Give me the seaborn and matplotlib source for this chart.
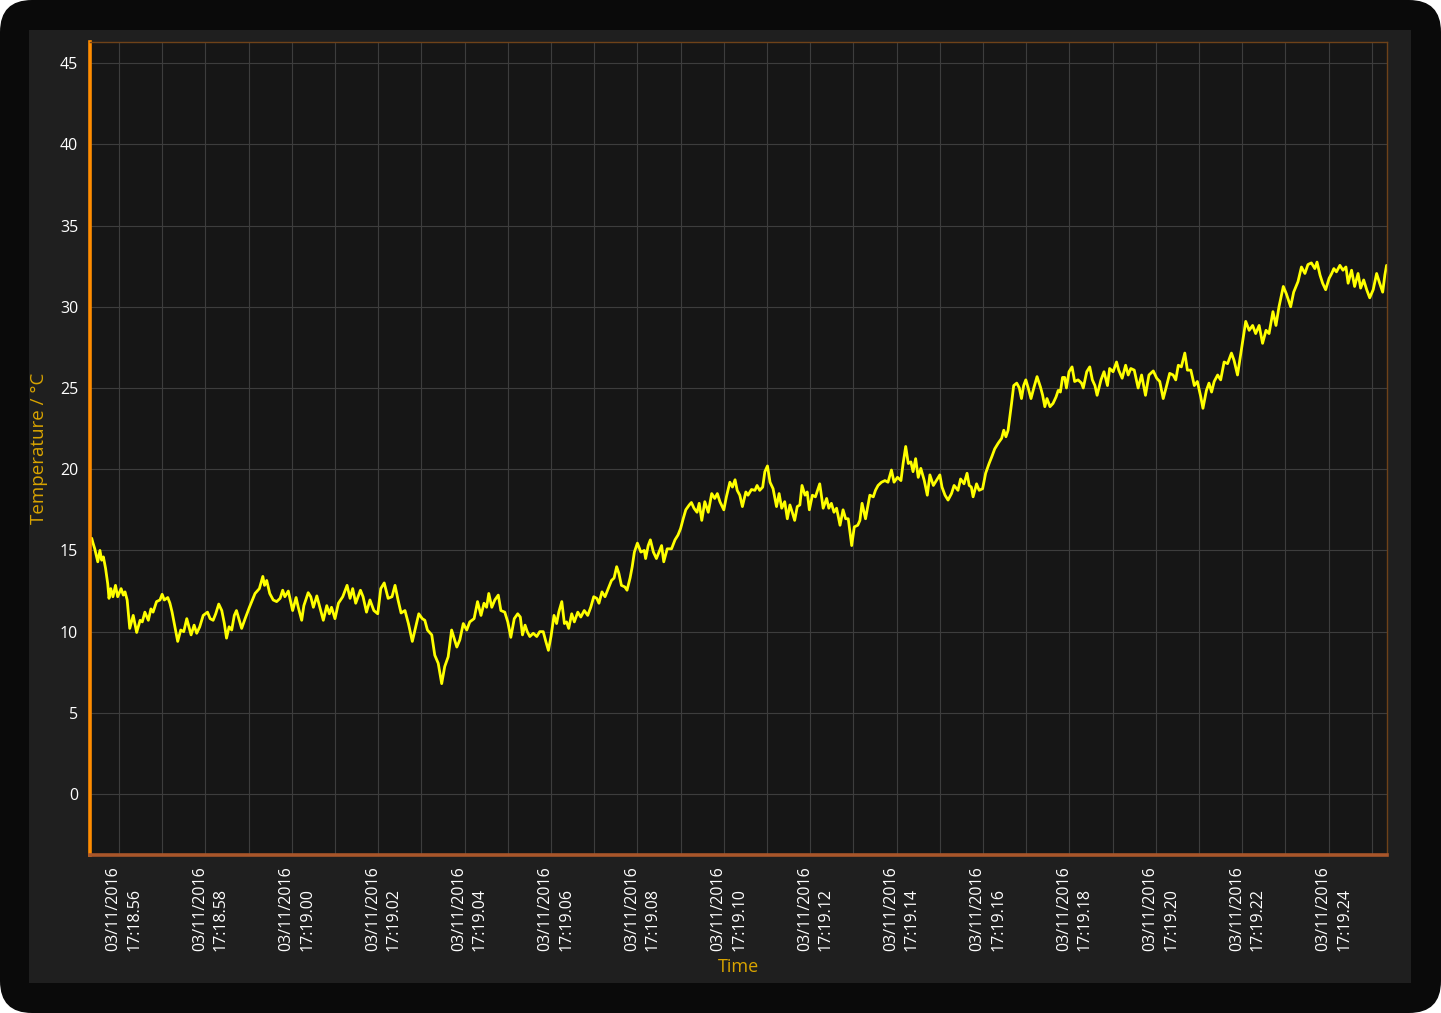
import pandas as pd
import matplotlib
matplotlib.use('Agg')
import matplotlib.pyplot as plt
import matplotlib.dates as mdates
import matplotlib.transforms as mtransforms
from matplotlib.patches import FancyBboxPatch, Rectangle
import seaborn as sns

# time origin of the recording
start = pd.Timestamp('2016-11-03 17:18:55')

# seconds after start
seconds = [
    0.37, 0.40, 0.44, 0.51, 0.56, 0.60, 0.64, 0.69, 0.74, 0.77,
    0.81, 0.86, 0.92, 0.97, 1.05, 1.10, 1.14, 1.19, 1.25, 1.33,
    1.41, 1.49, 1.54, 1.60, 1.68, 1.74, 1.79, 1.87, 1.95, 2.00,
    2.05, 2.13, 2.18, 2.23, 2.28, 2.36, 2.43, 2.50, 2.57, 2.67,
    2.74, 2.80, 2.87, 2.95, 3.05, 3.11, 3.18, 3.24, 3.31, 3.38,
    3.44, 3.49, 3.55, 3.61, 3.67,
    3.72, 3.84, 3.92, 4.02, 4.15, 4.25, 4.33, 4.37, 4.42, 4.49,
    4.57, 4.65, 4.73, 4.79, 4.84, 4.92, 5.02, 5.10, 5.15, 5.23,
    5.28, 5.38, 5.44, 5.50, 5.58, 5.64, 5.73, 5.81, 5.87, 5.92,
    6.00, 6.08, 6.18, 6.28, 6.35, 6.41, 6.48, 6.59, 6.65, 6.73,
    6.81, 6.90,
    6.99, 7.06, 7.14, 7.23, 7.32, 7.39, 7.46, 7.53, 7.62, 7.70,
    7.79, 7.87, 7.94, 8.02, 8.08, 8.14, 8.24, 8.31, 8.39, 8.47,
    8.54, 8.62, 8.70, 8.82, 8.89, 8.97, 9.05, 9.12, 9.22, 9.30,
    9.38, 9.45, 9.51, 9.56, 9.63, 9.70, 9.78, 9.84, 9.93, 10.00,
    10.07, 10.15, 10.23, 10.29, 10.34, 10.40,
    10.45, 10.51, 10.59, 10.67, 10.74, 10.82, 10.88, 10.94, 11.00, 11.07,
    11.13, 11.18, 11.25, 11.31, 11.36, 11.41, 11.48, 11.54, 11.62, 11.69,
    11.77, 11.85, 11.92, 11.99, 12.06, 12.11, 12.18, 12.25, 12.34, 12.40,
    12.46, 12.52, 12.57, 12.63, 12.71, 12.76, 12.83, 12.88, 12.93, 13.00,
    13.08, 13.16, 13.19, 13.25, 13.30, 13.37, 13.44, 13.50, 13.56, 13.61,
    13.69, 13.79, 13.87, 13.94, 14.00, 14.06, 14.12, 14.20, 14.25, 14.31,
    14.38, 14.43, 14.49, 14.56, 14.64, 14.72, 14.79, 14.85, 14.91, 15.00,
    15.06, 15.14, 15.20, 15.26, 15.31, 15.37, 15.43, 15.51, 15.56, 15.64,
    15.72, 15.77, 15.83, 15.90, 15.95, 16.01, 16.07, 16.14, 16.22, 16.28,
    16.34, 16.41, 16.47, 16.53, 16.59, 16.64, 16.70, 16.76, 16.81, 16.88,
    16.93, 16.98,
    17.05, 17.12, 17.22, 17.30, 17.38, 17.43, 17.49, 17.55, 17.61, 17.69,
    17.76, 17.82, 17.88, 17.96, 18.02, 18.10, 18.15, 18.20, 18.28, 18.38,
    18.46, 18.51, 18.57, 18.65, 18.73, 18.80, 18.88, 18.94, 19.02, 19.10,
    19.15, 19.21, 19.27, 19.33, 19.38, 19.44, 19.50, 19.56, 19.64, 19.71,
    19.77, 19.85, 19.92, 20.00, 20.05, 20.12, 20.19, 20.27, 20.33,
    20.42, 20.48, 20.56, 20.63, 20.68, 20.73, 20.77, 20.85, 20.91, 20.99,
    21.06, 21.14, 21.20, 21.27, 21.35, 21.43, 21.48, 21.53, 21.58, 21.62,
    21.66, 21.71, 21.78, 21.84, 21.89, 21.94, 21.99, 22.04, 22.11, 22.18,
    22.25, 22.33, 22.38, 22.43, 22.48, 22.55, 22.62, 22.69, 22.74, 22.79,
    22.84, 22.89, 22.93, 22.99, 23.06, 23.12, 23.20, 23.28, 23.32, 23.40,
    23.47, 23.53, 23.59, 23.64,
    23.73, 23.80, 23.88, 23.93, 24.01, 24.09, 24.14, 24.22, 24.30, 24.36,
    24.42, 24.50, 24.59, 24.67, 24.76, 24.84, 24.94, 25.02, 25.09, 25.17,
    25.25, 25.32, 25.40, 25.46, 25.52, 25.59, 25.67, 25.73, 25.81, 25.89,
    25.96, 26.04, 26.09, 26.17, 26.23, 26.29, 26.35, 26.43, 26.50, 26.58,
    26.66, 26.75, 26.81, 26.89, 26.97, 27.04,
    27.08, 27.16, 27.24, 27.31, 27.39, 27.47, 27.55, 27.62, 27.71, 27.78,
    27.85, 27.95, 28.02, 28.12, 28.19, 28.29, 28.37, 28.45, 28.52, 28.60,
    28.68, 28.73, 28.80, 28.86, 28.93, 29.01, 29.07, 29.12, 29.18, 29.26,
    29.33, 29.40, 29.45, 29.53, 29.60, 29.68, 29.74, 29.81, 29.88, 29.95,
    30.03, 30.11, 30.18, 30.25, 30.30, 30.34,
]

# temperature in degC at those times
temps = [
    15.75, 15.45, 15.1, 14.3, 15.0, 14.4, 14.6, 13.9, 12.95, 12.05,
    12.65, 12.15, 12.85, 12.15, 12.65, 12.25, 12.45, 11.95, 10.2, 11.0,
    9.95, 10.7, 10.6, 11.2, 10.7, 11.4, 11.2, 11.85, 11.95, 12.3,
    11.95, 12.1, 11.75, 11.2, 10.5, 9.4, 10.1, 10.0, 10.8, 9.8,
    10.4, 9.9, 10.3, 11.0, 11.2, 10.8, 10.7, 11.1, 11.7, 11.3,
    10.5, 9.6, 10.3, 10.1, 11.0,
    11.3, 10.2, 10.8, 11.5, 12.35, 12.65, 13.4, 12.85, 13.15, 12.35,
    11.95, 11.85, 12.05, 12.55, 12.15, 12.5, 11.3, 12.1, 11.5, 10.7,
    11.6, 12.4, 12.15, 11.5, 12.2, 11.6, 10.7, 11.6, 11.1, 11.5,
    10.8, 11.75, 12.15, 12.85, 12.05, 12.65, 11.75, 12.55, 12.15, 11.2,
    11.95, 11.3,
    11.1, 12.65, 13.0, 12.05, 12.15, 12.85, 11.95, 11.15, 11.3, 10.5,
    9.4, 10.3, 11.1, 10.8, 10.7, 10.1, 9.8, 8.55, 8.05, 6.8,
    7.85, 8.45, 10.1, 9.05, 9.5, 10.5, 10.1, 10.6, 10.8, 11.85,
    11.0, 11.75, 11.5, 12.35, 11.5, 11.95, 12.25, 11.3, 11.2, 10.6,
    9.65, 10.8, 11.1, 10.9, 9.8, 10.4,
    10.0, 9.7, 9.9, 9.7, 10.0, 10.0, 9.4, 8.85, 9.7, 11.0,
    10.5, 11.2, 11.85, 10.5, 10.6, 10.2, 11.1, 10.6, 11.2, 10.9,
    11.3, 11.0, 11.5, 12.15, 12.05, 11.75, 12.45, 12.15, 12.75, 13.15,
    13.3, 14.0, 13.6, 12.85, 12.75, 12.55, 13.3, 14.0, 14.9, 15.45,
    14.9, 15.0, 14.5, 15.3, 15.65, 14.9, 14.5, 14.9, 15.3, 14.3,
    15.1, 15.1, 15.65, 15.95, 16.35, 16.95, 17.5, 17.8, 17.95, 17.6,
    17.35, 17.9, 16.85, 18.0, 17.35, 18.5, 18.2, 18.5, 18.0, 17.5,
    18.3, 19.2, 18.9, 19.35, 18.7, 18.4, 17.7, 18.6, 18.4, 18.75,
    18.7, 19.0, 18.7, 18.9, 19.85, 20.2, 19.2, 18.8, 17.7, 18.5,
    17.6, 18.0, 16.95, 17.8, 17.3, 16.85, 17.7, 17.8, 19.0, 18.4,
    18.6, 17.5,
    18.4, 18.3, 19.1, 17.6, 18.2, 17.6, 17.9, 17.35, 17.6, 16.55,
    17.5, 16.95, 16.95, 15.3, 16.45, 16.55, 16.85, 17.9, 16.95, 18.4,
    18.3, 18.7, 19.0, 19.2, 19.3, 19.2, 19.95, 19.2, 19.5, 19.3,
    20.35, 21.4, 20.35, 20.45, 19.85, 20.65, 19.5, 20.05, 19.3, 18.4,
    19.65, 19.0, 19.3, 19.65, 18.9, 18.4, 18.1, 18.5, 19.0,
    18.7, 19.4, 19.1, 19.75, 19.0, 18.9, 18.3, 19.1, 18.7, 18.8,
    19.75, 20.35, 20.75, 21.25, 21.6, 21.9, 22.4, 22.0, 22.4, 23.2,
    24.05, 25.15, 25.3, 25.0, 24.35, 25.15, 25.5, 25.05, 24.35, 25.05,
    25.7, 25.05, 24.55, 23.85, 24.35, 23.85, 24.05, 24.45, 24.85, 24.75,
    25.65, 25.65, 25.0, 26.0, 26.3, 25.4, 25.5, 25.3, 25.0, 26.0,
    26.3, 25.5, 25.15, 24.55,
    25.5, 26.0, 25.15, 26.2, 26.0, 26.6, 26.1, 25.6, 26.4, 25.8,
    26.2, 26.1, 25.0, 25.8, 24.55, 25.8, 26.05, 25.6, 25.4, 24.35,
    25.15, 25.9, 25.8, 25.5, 26.4, 26.3, 27.15, 26.1, 26.1, 25.15,
    25.4, 24.45, 23.75, 24.85, 25.3, 24.75, 25.4, 25.8, 25.5, 26.6,
    26.5, 27.15, 26.7, 25.8, 27.2, 28.45,
    29.1, 28.55, 28.85, 28.35, 28.85, 27.75, 28.55, 28.35, 29.7, 28.85,
    30.0, 31.25, 30.8, 30.0, 30.9, 31.55, 32.45, 32.05, 32.6, 32.7,
    32.35, 32.75, 31.95, 31.45, 31.05, 31.75, 32.05, 32.35, 32.15, 32.55,
    32.25, 32.45, 31.45, 32.25, 31.25, 32.05, 31.15, 31.65, 31.05, 30.55,
    31.05, 32.05, 31.45, 30.9, 31.95, 32.55,
]

y_ticks = [0, 5, 10, 15, 20, 25, 30, 35, 40, 45]

df = pd.DataFrame({
    'Time': start + pd.to_timedelta(seconds, unit='s'),
    'Temperature': temps,
})

sns.set_style('dark')
plt.rcParams['font.family'] = ['Open Sans', 'DejaVu Sans']

fig = plt.figure(figsize=(14.41, 10.13), dpi=100)
fig.patch.set_facecolor('white')

# rounded dark frame and panel behind the chart
bg = fig.add_axes([0, 0, 1, 1])
bg.set_xlim(0, 1441)
bg.set_ylim(0, 1013)
bg.axis('off')
bg.add_patch(FancyBboxPatch((0, 0), 1441, 1013, boxstyle='round,pad=0,rounding_size=32',
                            fc='#0a0a0a', ec='none'))
bg.add_patch(Rectangle((29, 30), 1382, 953, fc='#1f1f1f', ec='none'))

ax = fig.add_axes([90 / 1441, 1 - 855 / 1013, 1297 / 1441, 813 / 1013])
ax.set_facecolor('#161616')
sns.lineplot(data=df, x='Time', y='Temperature', color='#ffff00', linewidth=2.0, ax=ax)

ax.set_xlim((start + pd.Timedelta(seconds=0.33)).to_pydatetime(),
            (start + pd.Timedelta(seconds=30.35)).to_pydatetime())
ax.set_ylim(-3.75, 46.3)
ax.set_yticks(y_ticks)

ax.xaxis.set_major_locator(mdates.SecondLocator(bysecond=range(0, 60, 2)))
ax.xaxis.set_minor_locator(mdates.SecondLocator())
ax.xaxis.set_major_formatter(mdates.DateFormatter('%d/%m/%Y\n%H:%M.%S'))

ax.grid(which='both', axis='both', color='#3d3d3d', linewidth=0.8)
ax.tick_params(axis='both', which='both', colors='#cfcfcf', length=5, width=1,
               labelcolor='white', labelsize=11.5)
ax.tick_params(axis='y', pad=3.5)
ax.tick_params(axis='x', pad=3)

# nudge the two-line date labels a little to the right of their ticks
shift = mtransforms.ScaledTranslation(5 / 100, 0, fig.dpi_scale_trans)
for lbl in ax.get_xticklabels():
    lbl.set_rotation(90)
    lbl.set_ha('center')
    lbl.set_va('top')
    lbl.set_multialignment('left')
    lbl.set_linespacing(1.4)
    lbl.set_transform(lbl.get_transform() + shift)

ax.spines['left'].set_color('#ff8c00')
ax.spines['left'].set_linewidth(2.6)
ax.spines['bottom'].set_color('#a9562a')
ax.spines['bottom'].set_linewidth(2.6)
for side in ['top', 'right']:
    ax.spines[side].set_visible(True)
    ax.spines[side].set_color('#6e4219')
    ax.spines[side].set_linewidth(1)

ax.set_ylabel('Temperature / °C', color='#d9a400', fontsize=13.5)
ax.yaxis.set_label_coords(-0.032, 0.5)
ax.set_xlabel('Time', color='#d9a400', fontsize=13)
ax.xaxis.set_label_coords(0.5, -0.127)

fig.savefig('out.png', dpi=100, facecolor=fig.get_facecolor())
